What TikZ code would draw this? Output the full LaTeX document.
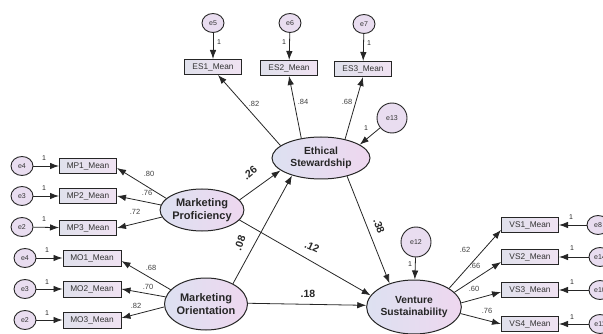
\documentclass[tikz,border=0pt]{standalone}
\usepackage{fontspec}
\setmainfont{Liberation Sans}
\usetikzlibrary{shapes.geometric,arrows.meta,calc}
\definecolor{boxL}{HTML}{E0E1EC}
\definecolor{boxR}{HTML}{F0E2F2}
\definecolor{latL}{HTML}{DDE1F1}
\definecolor{latR}{HTML}{EED7EF}
\definecolor{errF}{HTML}{E9DDF0}
\begin{document}
\begin{tikzpicture}[x=1pt,y=-1pt,
 obs/.style={draw=black!85, line width=1pt, left color=boxL, right color=boxR, minimum width=57pt, minimum height=15pt, inner sep=0pt, font=\fontsize{8.3}{9}\selectfont, text=black!80},
 lat/.style={ellipse, draw=black!85, line width=1pt, left color=latL, right color=latR, inner sep=0pt, align=center, text=black!85},
 err/.style={ellipse, draw=black!85, line width=0.9pt, fill=errF, minimum width=22pt, minimum height=19pt, inner sep=0pt, font=\fontsize{7}{8}\selectfont, text=black!80},
 errbig/.style={circle, draw=black!85, line width=0.9pt, fill=errF, minimum size=30pt, inner sep=0pt, font=\fontsize{7}{8}\selectfont, text=black!80},
 arr/.style={-{Latex[length=9pt,width=6.5pt]}, line width=0.8pt, draw=black!85},
 ld/.style={font=\fontsize{7.5}{8}\selectfont, text=black!75, inner sep=0pt},
 one/.style={font=\fontsize{7}{8}\selectfont, text=black!85, inner sep=0pt},
 pth/.style={font=\bfseries\fontsize{10.5}{11}\selectfont, text=black!85, inner sep=0pt}
]
\useasboundingbox (0,0) rectangle (603,334);
\clip (0,0) rectangle (603,334);

% latent variables
\node[lat, minimum width=98pt, minimum height=42pt, font=\bfseries\fontsize{10.3}{12}\selectfont] (ES) at (321,158) {Ethical\\Stewardship};
\node[lat, minimum width=94pt, minimum height=54pt, font=\bfseries\fontsize{10.3}{12}\selectfont] (VS) at (414,307) {Venture\\Sustainability};
\node[lat, minimum width=80pt, minimum height=42pt, font=\bfseries\fontsize{11}{13}\selectfont] (MP) at (202,210) {Marketing\\Proficiency};
\node[lat, minimum width=82pt, minimum height=52pt, font=\bfseries\fontsize{11}{13}\selectfont] (MO) at (206,304) {Marketing\\Orientation};

% ES indicators
\node[obs] (ES1) at (213,67) {ES1\_Mean};
\node[obs] (ES2) at (289,68) {ES2\_Mean};
\node[obs] (ES3) at (363,69) {ES3\_Mean};
\node[err] (e5) at (213,23) {e5};
\node[err] (e6) at (290,23) {e6};
\node[err] (e7) at (364,24) {e7};

% MP indicators
\node[obs] (MP1) at (88,166) {MP1\_Mean};
\node[obs] (MP2) at (88,196) {MP2\_Mean};
\node[obs] (MP3) at (88,228) {MP3\_Mean};
\node[err] (e4a) at (22,166) {e4};
\node[err] (e3a) at (22,196) {e3};
\node[err] (e2a) at (22,227) {e2};

% MO indicators
\node[obs, minimum width=58pt, minimum height=16pt] (MO1) at (92,258) {MO1\_Mean};
\node[obs, minimum width=58pt, minimum height=16pt] (MO2) at (92,289) {MO2\_Mean};
\node[obs, minimum width=58pt, minimum height=16pt] (MO3) at (92,320) {MO3\_Mean};
\node[err] (e4b) at (25,258) {e4};
\node[err] (e3b) at (25,289) {e3};
\node[err] (e2b) at (25,320) {e2};

% VS indicators
\node[obs] (VS1) at (530,225) {VS1\_Mean};
\node[obs] (VS2) at (530,257) {VS2\_Mean};
\node[obs] (VS3) at (530,290) {VS3\_Mean};
\node[obs] (VS4) at (530,324) {VS4\_Mean};
\node[err] (e8) at (598,225) {e8};
\node[err] (e14) at (600,257) {e14};
\node[err] (e10) at (600,290) {e10};
\node[err] (e11) at (600,324) {e11};

% disturbances
\node[errbig] (e13) at (392,118) {e13};
\node[errbig] (e12) at (416,242) {e12};

% error arrows
\draw[arr] (e5) -- (ES1);
\draw[arr] (e6) -- (ES2);
\draw[arr] (e7) -- (ES3);
\draw[arr] (e4a) -- (MP1);
\draw[arr] (e3a) -- (MP2);
\draw[arr] (e2a) -- (MP3);
\draw[arr] (e4b) -- (MO1);
\draw[arr] (e3b) -- (MO2);
\draw[arr] (e2b) -- (MO3);
\draw[arr] (e8) -- (VS1);
\draw[arr] (e14) -- (VS2);
\draw[arr] (e10) -- (VS3);
\draw[arr] (e11) -- (VS4);
\draw[arr] (e13) -- (ES.19);
\draw[arr] (e12) -- (VS);

% loadings
\draw[arr] (ES.163) -- ($(ES1.south)+(5,0)$);
\draw[arr] (ES.135) -- (ES2.south);
\draw[arr] (ES.38) -- (ES3.south);
\draw[arr] (MP.162) -- ($(MP1.east)+(0,2)$);
\draw[arr] (MP.173) -- (MP2.east);
\draw[arr] (MP.190) -- (MP3.east);
\draw[arr] (MO.158) -- ($(MO1.east)+(0,3)$);
\draw[arr] (MO.170) -- (MO2.east);
\draw[arr] (MO.184) -- ($(MO3.east)+(0,-2)$);
\draw[arr] (VS.28) -- ($(VS1.west)+(0,5)$);
\draw[arr] (VS.20) -- ($(VS2.west)+(0,5)$);
\draw[arr] (VS.5) -- ($(VS3.west)+(0,2)$);
\draw[arr] (VS.-8) -- (VS4.west);

% structural paths
\draw[arr] (MP.15) -- (ES.197);
\draw[arr] (MO.37) -- (ES.211);
\draw[arr] (ES.-35) -- (VS.136);
\draw[arr] (MP.-15) -- (VS.165);
\draw[arr] (MO.1) -- (VS.178);

% "1" labels
\node[one] (o5) at (219,42) {1};
\node[one] (o6) at (284,42) {1};
\node[one] (o7) at (369,43) {1};
\node[one] (o4a) at (44,158) {1};
\node[one] (o3a) at (44,188) {1};
\node[one] (o2a) at (44,219) {1};
\node[one] (o4b) at (47,250) {1};
\node[one] (o3b) at (47,282) {1};
\node[one] (o2b) at (47,313) {1};
\node[one] (o8) at (571,217) {1};
\node[one] (o14) at (572,248) {1};
\node[one] (o10) at (572,282) {1};
\node[one] (o11) at (572,317) {1};
\node[one] (o13) at (366,128) {1};
\node[one] (o12) at (410,264) {1};

% loading labels
\node[ld] (l1) at (149,174) {.80};
\node[ld] (l2) at (147,193) {.76};
\node[ld] (l3) at (135,212) {.72};
\node[ld] (l4) at (151,268) {.68};
\node[ld] (l5) at (148,287) {.70};
\node[ld] (l6) at (136,306) {.82};
\node[ld] (l7) at (254,104) {.82};
\node[ld] (l8) at (303,102) {.84};
\node[ld] (l9) at (347,102) {.68};
\node[ld] (l10) at (465,250) {.62};
\node[ld] (l11) at (475,266) {.66};
\node[ld] (l12) at (474,289) {.60};
\node[ld] (l13) at (487,311) {.76};

% structural labels
\node[pth, rotate=39] (p1) at (250,173) {.26};
\node[pth, rotate=70] (p2) at (240,243) {.08};
\node[pth, rotate=-70] (p3) at (379,226) {.38};
\node[pth, rotate=-25] (p4) at (312,247) {.12};
\node[pth] (p5) at (308,294) {.18};
\end{tikzpicture}
\end{document}
